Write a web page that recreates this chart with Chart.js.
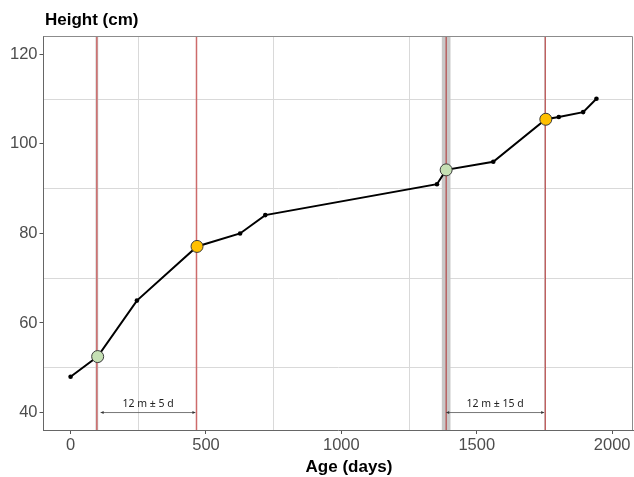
<!DOCTYPE html>
<html lang="en">
<head>
  <meta charset="UTF-8">
  <title>Height by age</title>
  <script src="https://cdn.jsdelivr.net/npm/chart.js"></script>
  <style>
    html, body { margin: 0; padding: 0; background: #fff; }
    #wrap { width: 634px; height: 477px; }
  </style>
</head>
<body>
  <div id="wrap"><canvas id="chartCanvas" width="634" height="477"></canvas></div>

  <script>
    // measurements
    const ages    = [0, 100, 245, 467, 626, 719, 1353, 1387, 1561, 1755, 1803, 1893, 1942];
    const heights = [48, 52.5, 65, 77.1, 80, 84.1, 91, 94.2, 96, 105.5, 106, 107.1, 110.1];
    const marks   = ['', 'start', '', 'end', '', '', '', 'start', '', 'end', '', '', ''];

    // axes
    const xTicks = [0, 500, 1000, 1500, 2000];
    const xGrid  = [250, 750, 1250, 1750];
    const yTicks = [40, 60, 80, 100, 120];
    const yGrid  = [50, 70, 90, 110];

    // reference lines, windows and interval labels
    const refDays     = [97, 465, 1387, 1753];
    const windowDays  = [[92, 102], [1371, 1403]];
    const arrowFrom   = [111, 1387];
    const arrowTo     = [461, 1749];
    const arrowLabels = ['12 m \u00b1 5 d', '12 m \u00b1 15 d'];

    const refStyle = [
      { color: '#cd6b6b', width: 1.5 },
      { color: '#cd6b6b', width: 1.5 },
      { color: '#b23c3c', width: 1.1 },
      { color: '#b23c3c', width: 1.1 }
    ];

    const pts = ages.map((a, i) => ({ x: a, y: heights[i] }));
    const pick = kind => pts.filter((p, i) => marks[i] === kind);

    const overlay = {
      id: 'overlay',
      beforeDatasetsDraw(chart) {
        const { ctx, chartArea: ca, scales: { x, y } } = chart;
        ctx.save();
        ctx.beginPath();
        ctx.rect(ca.left, ca.top, ca.right - ca.left, ca.bottom - ca.top);
        ctx.clip();
        // grey windows
        ctx.fillStyle = '#c8c8c8';
        windowDays.forEach(w => {
          const l = x.getPixelForValue(w[0]), r = x.getPixelForValue(w[1]);
          ctx.fillRect(l, ca.top, r - l, ca.bottom - ca.top);
        });
        // red lines
        refDays.forEach((d, i) => {
          const px = x.getPixelForValue(d);
          ctx.strokeStyle = refStyle[i].color;
          ctx.lineWidth = refStyle[i].width;
          ctx.beginPath();
          ctx.moveTo(px, ca.top);
          ctx.lineTo(px, ca.bottom);
          ctx.stroke();
        });
        // interval arrows
        const ay = y.getPixelForValue(40);
        ctx.strokeStyle = '#555';
        ctx.lineWidth = 0.8;
        arrowFrom.forEach((f, i) => {
          const x1 = x.getPixelForValue(f), x2 = x.getPixelForValue(arrowTo[i]);
          ctx.beginPath();
          ctx.moveTo(x1, ay);
          ctx.lineTo(x2, ay);
          ctx.stroke();
          ctx.fillStyle = '#333';
          [[x1, 1], [x2, -1]].forEach(([px, dir]) => {
            ctx.beginPath();
            ctx.moveTo(px, ay);
            ctx.lineTo(px + dir * 3, ay - 1.5);
            ctx.lineTo(px + dir * 3, ay + 1.5);
            ctx.closePath();
            ctx.fill();
          });
          ctx.font = '10.5px "Noto Sans"';
          ctx.textAlign = 'center';
          ctx.textBaseline = 'middle';
          ctx.fillStyle = '#222';
          ctx.fillText(arrowLabels[i], (x1 + x2) / 2, ay - 9);
        });
        ctx.restore();
      },
      afterDraw(chart) {
        const { ctx, chartArea: ca } = chart;
        ctx.save();
        ctx.strokeStyle = '#8c8c8c';
        ctx.lineWidth = 1;
        ctx.beginPath();
        ctx.moveTo(ca.left, ca.top + 0.5);
        ctx.lineTo(ca.right - 0.5, ca.top + 0.5);
        ctx.lineTo(ca.right - 0.5, ca.bottom);
        ctx.stroke();
        ctx.fillStyle = '#000';
        ctx.font = 'bold 17px "Liberation Sans", Arial';
        ctx.textBaseline = 'middle';
        ctx.textAlign = 'left';
        ctx.fillText('Height (cm)', 45, 20);
        ctx.textAlign = 'center';
        ctx.fillText('Age (days)', 349, 467);
        ctx.restore();
      }
    };

    const tickFont = { family: '"Liberation Sans", Arial', size: 16.5 };

    new Chart(document.getElementById('chartCanvas').getContext('2d'), {
      type: 'line',
      data: {
        datasets: [
          {
            data: pick('start'),
            showLine: false,
            pointRadius: 6,
            pointHoverRadius: 6,
            pointBackgroundColor: '#c5e0b4',
            pointBorderColor: '#3a3a3a',
            pointBorderWidth: 1,
            order: 0
          },
          {
            data: pick('end'),
            showLine: false,
            pointRadius: 6,
            pointHoverRadius: 6,
            pointBackgroundColor: '#ffc000',
            pointBorderColor: '#3a3a3a',
            pointBorderWidth: 1,
            order: 0
          },
          {
            data: pts,
            borderColor: '#000',
            borderWidth: 2,
            pointRadius: marks.map(m => m ? 0 : 2.3),
            pointBackgroundColor: '#000',
            pointBorderColor: '#000',
            pointBorderWidth: 0,
            tension: 0,
            order: 1
          }
        ]
      },
      options: {
        responsive: false,
        animation: false,
        layout: { autoPadding: false, padding: { top: 36, right: 1, left: 0, bottom: 0 } },
        plugins: { legend: { display: false }, tooltip: { enabled: false } },
        scales: {
          x: {
            type: 'linear',
            min: -100,
            max: 2077,
            afterBuildTicks: s => { s.ticks = [...xTicks, ...xGrid].sort((a, b) => a - b).map(v => ({ value: v })); },
            afterFit: s => { s.height = 47; },
            ticks: {
              autoSkip: false,
              maxRotation: 0,
              padding: 2,
              color: '#4d4d4d',
              font: tickFont,
              callback: v => xTicks.includes(v) ? String(v) : ''
            },
            grid: {
              color: c => xGrid.includes(c.tick && c.tick.value) ? '#d9d9d9' : 'rgba(0,0,0,0)',
              tickColor: c => xTicks.includes(c.tick && c.tick.value) ? '#555' : 'rgba(0,0,0,0)',
              tickLength: 4,
              lineWidth: 1
            },
            border: { display: true, color: '#666', width: 1 }
          },
          y: {
            min: 36.1,
            max: 124.1,
            afterBuildTicks: s => { s.ticks = [...yTicks, ...yGrid].sort((a, b) => a - b).map(v => ({ value: v })); },
            afterFit: s => { s.width = 43.5; },
            ticks: {
              autoSkip: false,
              padding: 2,
              color: '#4d4d4d',
              font: tickFont,
              callback: v => yTicks.includes(v) ? String(v) : ''
            },
            grid: {
              color: c => yGrid.includes(c.tick && c.tick.value) ? '#d9d9d9' : 'rgba(0,0,0,0)',
              tickColor: c => yTicks.includes(c.tick && c.tick.value) ? '#555' : 'rgba(0,0,0,0)',
              tickLength: 4,
              lineWidth: 1
            },
            border: { display: true, color: '#666', width: 1 }
          }
        }
      },
      plugins: [overlay]
    });
  </script>
</body>
</html>
